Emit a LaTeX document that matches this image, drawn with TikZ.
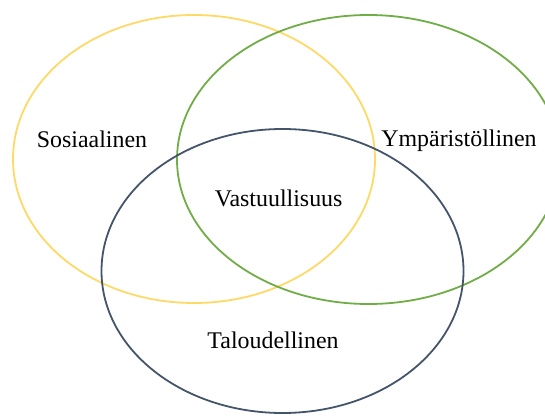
\documentclass[tikz,border=0pt]{standalone}
\usepackage{fontspec}
\setmainfont{Liberation Serif}
\definecolor{cyellow}{HTML}{FFD966}
\definecolor{cgreen}{HTML}{70AD47}
\definecolor{cblue}{HTML}{44546A}
\begin{document}
\begin{tikzpicture}[x=1pt,y=1pt,
  ring/.style={line width=1.8pt},
  lbl/.style={anchor=base,inner sep=0pt,font=\fontsize{23.9}{28}\selectfont}]
\useasboundingbox (0,0) rectangle (545,415);
\draw[ring,cyellow] (194,256) ellipse [x radius=181, y radius=144];
\draw[ring,cgreen] (368.5,255.5) ellipse [x radius=191.5, y radius=144.5];
\draw[ring,cblue] (282.5,144) ellipse [x radius=181, y radius=142];
\node[lbl] (sos) at (92,267) {Sosiaalinen};
\node[lbl] (ymp) at (459,268.3) {Ympäristöllinen};
\node[lbl] (vas) at (278.7,208.3) {Vastuullisuus};
\node[lbl] (tal) at (273,67) {Taloudellinen};
\end{tikzpicture}
\end{document}
